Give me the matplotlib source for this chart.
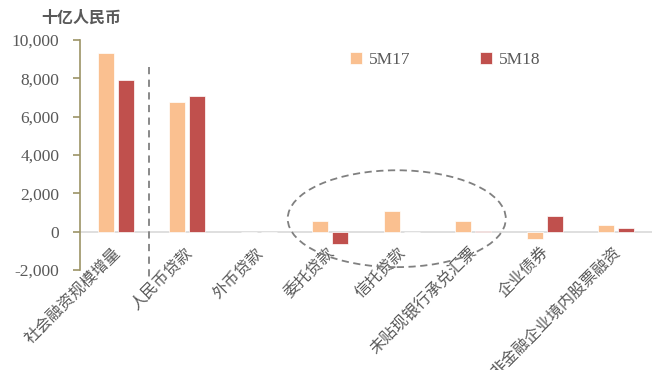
import matplotlib
matplotlib.use("Agg")
import matplotlib.pyplot as plt
from matplotlib.patches import Ellipse
import numpy as np

plt.rcParams['font.family'] = ['Noto Sans CJK SC', 'DejaVu Sans']

categories = ["社会融资规模增量", "人民币贷款", "外币贷款", "委托贷款", "信托贷款",
              "未贴现银行承兑汇票", "企业债券", "非金融企业境内股票融资"]
series_names = ["5M17", "5M18"]
values_5m17 = [9340, 6760, 0, 570, 1060, 570, -380, 365]
values_5m18 = [7900, 7070, 0, -640, 0, 50, 830, 190]
yticks = [-2000, 0, 2000, 4000, 6000, 8000, 10000]
unit_label = "十亿人民币"

c17 = "#FAC090"
c18 = "#C0504D"
grey = "#595959"

fig = plt.figure(figsize=(6.59, 3.70), dpi=100)
ax = fig.add_axes([0.1214, 0.27, 0.868, 0.622])

x = np.arange(len(categories))
w = 0.225
off = 0.14
ax.bar(x - off, values_5m17, width=w, color=c17, edgecolor="white", linewidth=0.5, label=series_names[0], zorder=3)
ax.bar(x + off, values_5m18, width=w, color=c18, edgecolor="white", linewidth=0.5, label=series_names[1], zorder=3)

ax.set_xlim(-0.5, len(categories) - 0.5)
ax.set_ylim(-2000, 10000)
ax.set_yticks(yticks)
ax.set_yticklabels([f"{v:,}" for v in yticks], family="Liberation Serif", fontsize=12.5, color=grey)
ax.axhline(0, color="#D9D9D9", linewidth=1.2, zorder=2)

for s in ["top", "right", "bottom"]:
    ax.spines[s].set_visible(False)
ax.spines["left"].set_color("#9C9466")
ax.spines["left"].set_linewidth(1.2)
ax.tick_params(axis="y", direction="out", length=5, color="#9C9466", width=1.2, pad=10)
ax.tick_params(axis="x", length=0)

ax.set_xticks(x)
ax.set_xticklabels([])
for i, lab in enumerate(categories):
    ax.annotate(lab, xy=(i, 0), xycoords=("data", "data"), xytext=(-3, -9), textcoords="offset points",
                rotation=45, ha="right", va="top", rotation_mode="anchor",
                fontsize=11.5, color=grey, annotation_clip=False)

# dashed separator
ax.plot([0.47, 0.47], [8600, -2400], linestyle=(0, (4, 3)), color="#808080", linewidth=1.3, clip_on=False, zorder=4)

# dashed ellipse
ell = Ellipse((3.93, 680), width=3.05, height=5050, fill=False, linestyle=(0, (4, 2.5)),
              edgecolor="#808080", linewidth=1.3, clip_on=False, zorder=4)
ax.add_patch(ell)

leg = ax.legend(loc="upper left", bbox_to_anchor=(0.445, 1.015), ncol=2, frameon=False,
                prop={"family": "Liberation Serif", "size": 12.5}, handlelength=0.7, handleheight=0.7,
                columnspacing=4.0, handletextpad=0.4)
for t in leg.get_texts():
    t.set_color(grey)

fig.text(0.063, 0.952, unit_label, fontsize=11.5, fontweight="bold", color=grey, ha="left", va="center")

fig.savefig("out.png", dpi=100)
